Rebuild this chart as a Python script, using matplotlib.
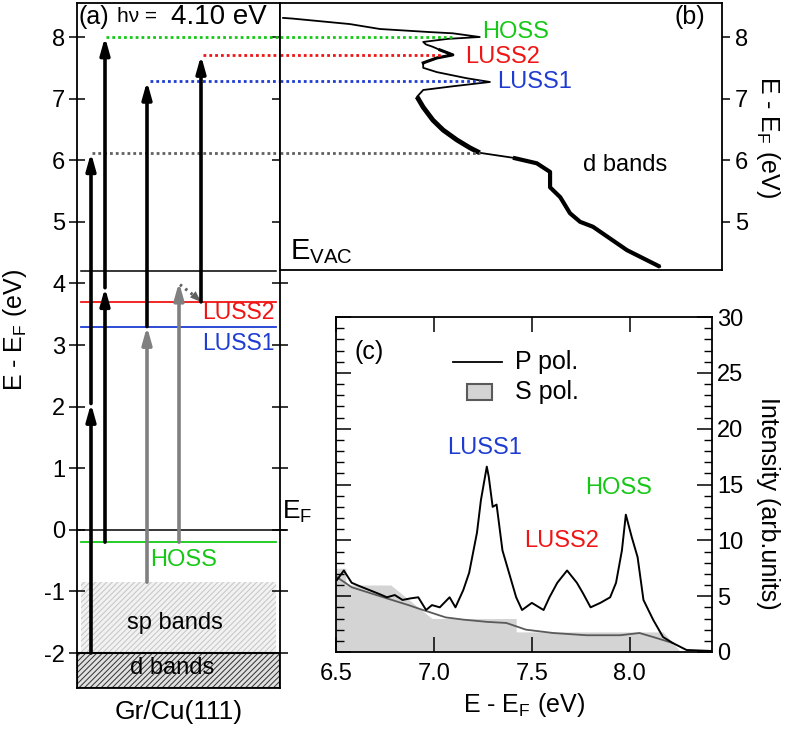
import numpy as np
import matplotlib
matplotlib.use("Agg")
import matplotlib.pyplot as plt
from matplotlib.patches import Rectangle

plt.rcParams['font.family'] = ['Liberation Sans', 'DejaVu Sans']
plt.rcParams['mathtext.fontset'] = 'custom'
plt.rcParams['mathtext.rm'] = 'Liberation Sans'
plt.rcParams['mathtext.it'] = 'Liberation Sans:italic'
plt.rcParams['mathtext.default'] = 'regular'
plt.rcParams['axes.unicode_minus'] = False
plt.rcParams['axes.linewidth'] = 1.3
plt.rcParams['hatch.linewidth'] = 0.7

# energy levels (eV relative to E_F)
e_vac = 4.20
e_luss2 = 3.70
e_luss1 = 3.30
e_hoss = -0.20
e_sp_top = -0.85
e_d_top = -2.0

# (b) two-photon photoemission spectrum, energy vs intensity
spec_e = [8.31, 8.30, 8.21, 8.13, 8.08, 8.06, 8.00, 7.97, 7.92, 7.88, 7.84, 7.79,
          7.71, 7.66, 7.58, 7.50, 7.43, 7.33, 7.27, 7.20, 7.14, 7.03, 6.86, 6.65,
          6.49, 6.33, 6.20, 6.12, 6.04, 5.95, 5.81, 5.56, 5.40, 5.14, 5.00, 4.92,
          4.54, 4.27]
spec_i = [0.7, 2.7, 15.8, 22.6, 33.9, 39.1, 45.2, 38.0, 32.4, 33.0, 34.6, 36.2,
          39.1, 35.5, 32.4, 32.4, 35.5, 42.3, 47.5, 39.1, 32.4, 31.0, 32.4, 34.6,
          36.9, 40.0, 43.0, 45.2, 52.7, 58.1, 61.1, 61.1, 63.4, 65.6, 67.9, 70.8,
          78.5, 86.0]

# (c) P and S polarisation spectra
p_e = [6.505, 6.54, 6.58, 6.62, 6.67, 6.72, 6.76, 6.80, 6.84, 6.88, 6.92, 6.96,
       6.99, 7.03, 7.08, 7.11, 7.15, 7.18, 7.22, 7.24, 7.27, 7.28, 7.30, 7.32,
       7.35, 7.39, 7.42, 7.45, 7.50, 7.56, 7.59, 7.63, 7.68, 7.73, 7.76, 7.80,
       7.85, 7.90, 7.93, 7.96, 7.98, 8.01, 8.04, 8.07, 8.12, 8.17, 8.22, 8.29,
       8.42]
p_i = [6.45, 7.3, 6.2, 5.9, 5.55, 5.2, 4.9, 5.1, 4.66, 4.8, 4.9, 3.76,
       4.2, 4.0, 4.9, 4.0, 5.55, 7.1, 10.7, 13.6, 16.6, 15.7, 13.0, 13.2,
       9.1, 6.7, 4.9, 3.76, 4.4, 3.76, 4.9, 6.2, 7.3, 6.2, 5.3, 4.0,
       4.4, 4.9, 6.2, 9.1, 12.3, 10.3, 8.5, 4.66, 2.87, 1.34, 0.8, 0.18,
       0.09]
s_e = [6.505, 6.58, 6.67, 6.76, 6.87, 6.92, 6.99, 7.06, 7.15, 7.27, 7.37, 7.47,
       7.61, 7.78, 7.95, 8.05, 8.12, 8.17, 8.22]
s_i = [6.7, 5.8, 5.3, 4.8, 4.2, 3.9, 3.5, 3.1, 2.9, 2.7, 2.6, 2.0,
       1.7, 1.5, 1.5, 1.7, 1.34, 1.07, 0.8]
s_fill_e = [6.5, 6.55, 6.55, 6.78, 6.99, 7.42, 7.42, 8.17, 8.26, 8.42]
s_fill_i = [7.5, 7.5, 6.0, 6.0, 3.0, 3.0, 1.8, 1.8, 0.0, 0.0]

GREEN = '#16c816'
RED = '#f01414'
BLUE = '#1e3cd2'
GRAY = '#808080'
DOT = (0, (1, 1.1))

fig = plt.figure(figsize=(7.9, 7.3), dpi=100)

# ---------------- (a) level diagram ----------------
axa = fig.add_axes([77/790, 1-688/730, 203/790, 685/730])
axa.set_xlim(0, 203)
axa.set_ylim(-2.568, 8.552)
axa.set_xticks([])
axa.set_yticks(range(-2, 9))
axa.tick_params(axis='y', direction='inout', length=11, width=1.1,
                labelsize=17, left=True, right=True, pad=3)
axa.set_ylabel('E - E$_F$ (eV)', fontsize=18, va='center', ha='center')
axa.yaxis.set_label_coords(-0.305, 0.523)
axa.set_xlabel('Gr/Cu(111)', fontsize=19, labelpad=9)

axa.add_patch(Rectangle((4, e_d_top), 195, e_sp_top - e_d_top, facecolor='#f2f2f2',
                        edgecolor='#c4c4c4', hatch='//////', lw=0))
axa.add_patch(Rectangle((0, -2.568), 203, e_d_top + 2.568, facecolor='#e0e0e0',
                        edgecolor='#303030', hatch='//////', lw=0))
axa.add_patch(Rectangle((0, -2.568), 203, e_d_top + 2.568, facecolor='none',
                        edgecolor='k', lw=1.5, zorder=3))

axa.plot([4, 199], [e_vac, e_vac], color='k', lw=1.1)
axa.plot([4, 199], [e_luss2, e_luss2], color=RED, lw=1.3)
axa.plot([4, 199], [e_luss1, e_luss1], color=BLUE, lw=1.3)
axa.plot([4, 199], [e_hoss, e_hoss], color=GREEN, lw=1.3)
axa.plot([0, 209], [0, 0], color='k', lw=1.1, clip_on=False)


def arrow(ax, x, y0, y1, color='k'):
    ax.annotate('', xy=(x, y1), xytext=(x, y0),
                arrowprops=dict(arrowstyle='-|>,head_length=1.0,head_width=0.28',
                                color=color, lw=2.6, shrinkA=0, shrinkB=0,
                                mutation_scale=10), zorder=4)


arrow(axa, 14, e_d_top, 2.05)
arrow(axa, 14, 2.05, 6.12)
arrow(axa, 28, e_hoss, 3.93)
arrow(axa, 28, 3.93, 8.0)
arrow(axa, 70, e_sp_top, e_luss1, GRAY)
arrow(axa, 70, e_luss1, 7.28)
arrow(axa, 102, e_hoss, 4.02, GRAY)
arrow(axa, 124, e_luss2, 7.70)
axa.plot([103, 121], [3.98, 3.75], color='#606060', lw=2.2, ls=(0, (0.8, 1.4)))
axa.annotate('', xy=(124, 3.70), xytext=(120, 3.76),
             arrowprops=dict(arrowstyle='-|>,head_length=0.8,head_width=0.3',
                             color='#606060', lw=0, shrinkA=0, shrinkB=0,
                             mutation_scale=10))

# dotted guide lines running into panel (b)
axa.plot([15, 203], [6.12, 6.12], color='#606060', lw=2, ls=DOT)
axa.plot([29, 203], [8.0, 8.0], color=GREEN, lw=2, ls=DOT)
axa.plot([73, 203], [7.28, 7.28], color=BLUE, lw=2, ls=DOT)
axa.plot([126, 203], [7.70, 7.70], color=RED, lw=2, ls=DOT)

axa.text(1, 8.32, '(a)', fontsize=18, va='center')
axa.text(40, 8.33, 'h\u03bd =', fontsize=15, va='center')
axa.text(94, 8.33, '4.10 eV', fontsize=20, va='center')
axa.text(198, 3.52, 'LUSS2', color=RED, fontsize=16.5, ha='right', va='center')
axa.text(198, 3.03, 'LUSS1', color=BLUE, fontsize=16.5, ha='right', va='center')
axa.text(107, -0.49, 'HOSS', color=GREEN, fontsize=17, ha='center', va='center')
axa.text(98, -1.51, 'sp bands', fontsize=17, ha='center', va='center')
axa.text(95, -2.24, 'd bands', fontsize=17, ha='center', va='center', zorder=4)
axa.text(205, 0.07, 'E$_F$', fontsize=19, ha='left', va='bottom')

# ---------------- (b) spectrum ----------------
axb = fig.add_axes([280/790, 1-270/730, 442/790, 267/730])
axb.set_xlim(0, 100)
axb.set_ylim(4.218, 8.552)
axb.set_xticks([])
axb.set_yticks([5, 6, 7, 8])
axb.yaxis.tick_right()
axb.tick_params(axis='y', direction='out', length=6, width=1.1, labelsize=17,
                left=False, right=True)
axb.yaxis.set_label_position('right')
axb.set_ylabel('E - E$_F$ (eV)', fontsize=18, rotation=270, labelpad=24)

axb.plot(spec_i, spec_e, color='k', lw=1.3)
# noisy stretches of the spectrum drawn heavier
e_arr = np.array(spec_e)
i_arr = np.array(spec_i)
m1 = (e_arr <= 7.10) & (e_arr >= 6.12)
m2 = (e_arr <= 6.04)
m3 = (e_arr <= 7.80) & (e_arr >= 7.55)
axb.plot(i_arr[m1], e_arr[m1], color='k', lw=3.5, solid_capstyle='butt')
axb.plot(i_arr[m2], e_arr[m2], color='k', lw=3.0, solid_capstyle='butt')
axb.plot(i_arr[m3], e_arr[m3], color='k', lw=2.2)

axb.plot([0, 45.2], [6.12, 6.12], color='#606060', lw=2, ls=DOT)
axb.plot([0, 39.1], [8.0, 8.0], color=GREEN, lw=2, ls=DOT)
axb.plot([0, 45.2], [7.28, 7.28], color=BLUE, lw=2, ls=DOT)
axb.plot([0, 36.9], [7.70, 7.70], color=RED, lw=2, ls=DOT)

axb.text(45.7, 8.08, 'HOSS', color=GREEN, fontsize=17, va='center')
axb.text(41.9, 7.68, 'LUSS2', color=RED, fontsize=17, va='center')
axb.text(49.1, 7.27, 'LUSS1', color=BLUE, fontsize=17, va='center')
axb.text(68.6, 5.92, 'd bands', fontsize=17, va='center')
axb.text(96.2, 8.32, '(b)', fontsize=18, ha='right', va='center')
axb.text(2.3, 4.28, 'E$_{VAC}$', fontsize=21, ha='left', va='bottom')

# ---------------- (c) polarisation dependence ----------------
axc = fig.add_axes([336/790, 1-652/730, 376/790, 335/730])
axc.set_xlim(6.5, 8.42)
axc.set_ylim(0, 30)
axc.set_xticks([6.5, 7.0, 7.5, 8.0])
axc.set_xticklabels(['6.5', '7.0', '7.5', '8.0'])
axc.set_yticks(range(0, 31, 5))
axc.set_yticks(range(0, 31), minor=True)
axc.yaxis.tick_right()
axc.tick_params(axis='both', which='major', direction='in', length=11, width=1.1,
                labelsize=17, top=True, bottom=True, left=True, right=True)
axc.tick_params(axis='y', which='minor', direction='in', length=6, width=1.0,
                left=True, right=True)
axc.tick_params(axis='x', pad=8)
axc.yaxis.set_label_position('right')
axc.set_ylabel('Intensity (arb.units)', fontsize=18, rotation=270,
               va='center', ha='center')
axc.yaxis.set_label_coords(1.149, 0.445)
axc.set_xlabel('E - E$_F$ (eV)', fontsize=18, labelpad=4)

axc.fill_between(s_fill_e, 0, s_fill_i, color='#d4d4d4', lw=0, zorder=1)
axc.plot(s_e, s_i, color='#5a5a5a', lw=1.3, zorder=2)
axc.plot(p_e, p_i, color='k', lw=1.4, zorder=3)

# legend keys
axc.plot([0.311, 0.441], [0.866, 0.866], color='k', lw=1.3, transform=axc.transAxes)
axc.add_patch(Rectangle((0.348, 0.752), 0.066, 0.048, transform=axc.transAxes,
                        facecolor='#d4d4d4', edgecolor='#5a5a5a', lw=1.5))
axc.text(0.476, 0.866, 'P pol.', fontsize=18, va='center', transform=axc.transAxes)
axc.text(0.476, 0.776, 'S pol.', fontsize=18, va='center', transform=axc.transAxes)

axc.text(6.597, 26.9, '(c)', fontsize=18, va='center')
axc.text(7.258, 18.3, 'LUSS1', color=BLUE, fontsize=17, ha='center', va='center')
axc.text(7.65, 9.9, 'LUSS2', color=RED, fontsize=17, ha='center', va='center')
axc.text(7.944, 14.7, 'HOSS', color=GREEN, fontsize=17, ha='center', va='center')

fig.savefig('out.png', dpi=100)
